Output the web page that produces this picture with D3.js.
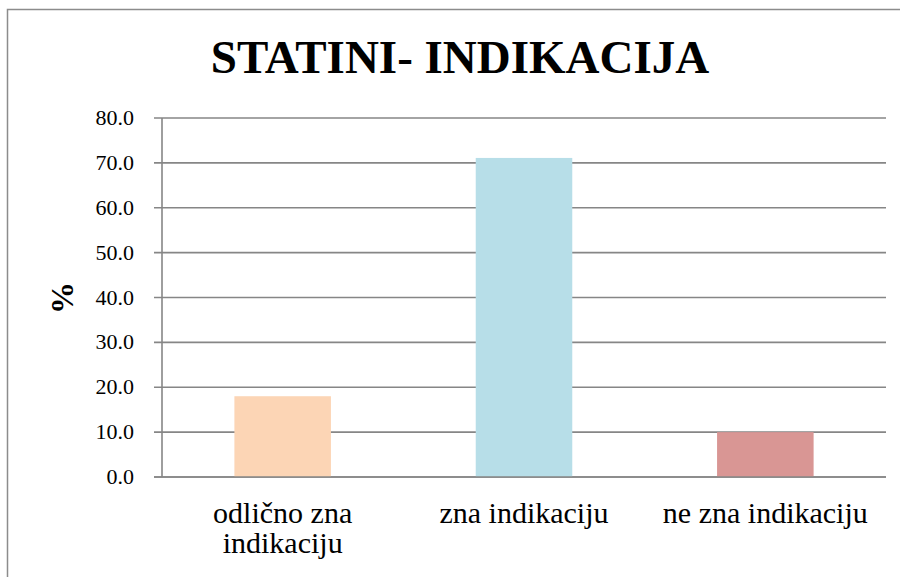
<!DOCTYPE html>
<html><head><meta charset="utf-8"><script src="https://cdn.jsdelivr.net/npm/d3@7"></script></head>
<body style="margin:0">
<div id="wrap" style="position:relative;width:900px;height:577px;overflow:hidden;background:#fff">
<svg id="s" width="900" height="577" style="display:block;position:absolute;left:0;top:0"></svg>
</div>
<script>
const categories = ["odlično zna indikaciju", "zna indikaciju", "ne zna indikaciju"];
const categoryLines = [["odlično zna", "indikaciju"], ["zna indikaciju"], ["ne zna indikaciju"]];
const values = [18.0, 71.1, 10.0];
const colors = ["#FCD5B5", "#B7DEE8", "#D99694"];
const yTicks = [0, 10, 20, 30, 40, 50, 60, 70, 80];
const title = "STATINI- INDIKACIJA";
const yLabel = "%";

const FONT = '"Liberation Serif", Tinos, "Nimbus Roman", FreeSerif, cursive';
const ASC = 0.8375; // baseline offset within a line box of line-height 1
const wrap = d3.select("#wrap");
const svg = d3.select("#s");
const W = 900, H = 577;
const m = { left: 162, right: 14, top: 118, bottom: 100 };
const x0 = m.left, x1 = W - m.right, yTop = m.top, yBot = H - m.bottom;

svg.append("rect")
  .attr("x", 7.5).attr("y", 9.5).attr("width", 920).attr("height", 620)
  .attr("fill", "none").attr("stroke", "#8c8c8c").attr("stroke-width", 1.5);

const x = d3.scaleBand().domain(categories).range([x0, x1]).paddingInner(0.6).paddingOuter(0.3);
const y = d3.scaleLinear().domain([0, 80]).range([yBot, yTop]);

svg.append("g").selectAll("line").data(yTicks).join("line")
  .attr("x1", x0 - 8).attr("x2", x1)
  .attr("y1", d => y(d)).attr("y2", d => y(d))
  .attr("stroke", "#868686").attr("stroke-width", 1.6);

svg.append("line").attr("x1", x0).attr("x2", x0).attr("y1", yTop).attr("y2", yBot)
  .attr("stroke", "#868686").attr("stroke-width", 1.6);

svg.append("g").selectAll("rect").data(values).join("rect")
  .attr("x", (d, i) => x(categories[i]))
  .attr("width", x.bandwidth())
  .attr("y", d => y(d))
  .attr("height", d => y(0) - y(d))
  .attr("fill", (d, i) => colors[i]);

svg.append("line").attr("x1", x0 - 8).attr("x2", x1).attr("y1", y(0)).attr("y2", y(0))
  .attr("stroke", "#868686").attr("stroke-width", 1.6);

function label(txt, opts) {
  const fs = opts.size;
  const d = wrap.append("div").text(txt)
    .style("position", "absolute")
    .style("white-space", "nowrap")
    .style("font-family", FONT)
    .style("font-size", fs + "px")
    .style("line-height", "1")
    .style("color", "#000")
    .style("font-weight", opts.bold ? "bold" : "normal")
    .style("width", opts.width + "px")
    .style("text-align", opts.align)
    .style("left", opts.left + "px")
    .style("top", (opts.baseline - ASC * fs) + "px");
  if (opts.transform) d.style("transform", opts.transform).style("transform-origin", "50% 50%");
  return d;
}

// y tick labels
yTicks.forEach(v => {
  label(d3.format(".1f")(v), { size: 22, width: 100, align: "right", left: 34, baseline: y(v) + 7.5 });
});

// category labels
categories.forEach((c, i) => {
  const cx = x(c) + x.bandwidth() / 2;
  categoryLines[i].forEach((ln, k) => {
    label(ln, { size: 30, width: 260, align: "center", left: cx - 130, baseline: 523 + k * 30 });
  });
});

// title
label(title, { size: 47, bold: true, width: 800, align: "center", left: 460 - 400, baseline: 73 });

// y axis label (rotated)
label(yLabel, { size: 32, bold: true, width: 60, align: "center", left: 62 - 30,
  baseline: (yTop + yBot) / 2 - 16 + ASC * 32, transform: "rotate(-90deg)" });
</script></body></html>
